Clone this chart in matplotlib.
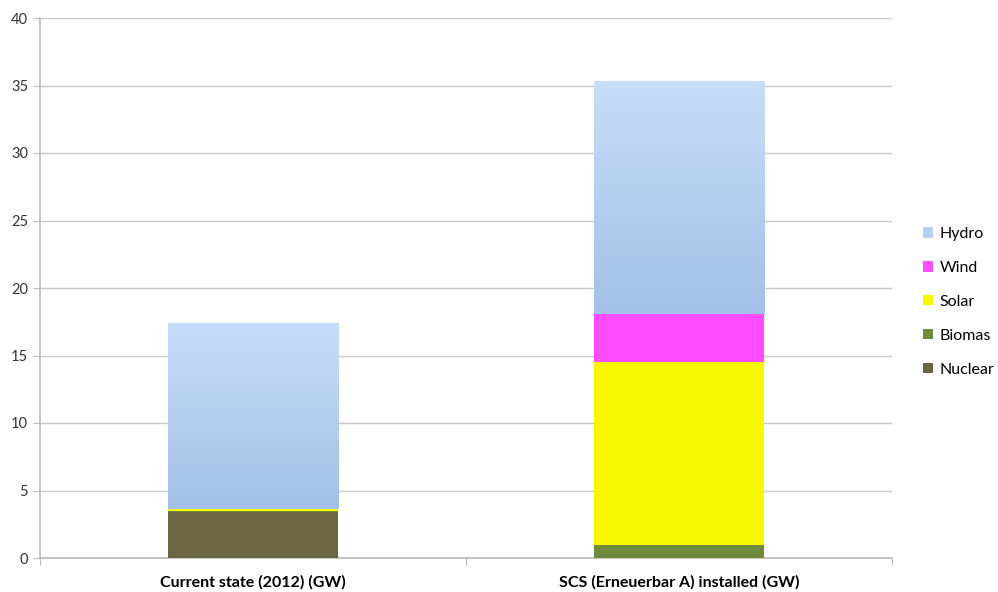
import numpy as np
import matplotlib.pyplot as plt
from matplotlib.colors import LinearSegmentedColormap

categories = ["Current state (2012) (GW)", "SCS (Erneuerbar A) installed (GW)"]
sources = ["Nuclear", "Biomas", "Solar", "Wind", "Hydro"]
nuclear = [3.4, 0.0]
biomas = [0.08, 1.0]
solar = [0.12, 13.5]
wind = [0.0, 3.6]
hydro = [13.8, 17.2]

colors = {
    "Nuclear": "#6b6641",
    "Biomas": "#6e8b3d",
    "Solar": "#f7f700",
    "Wind": "#ff4cff",
    "Hydro": "#b4cff2",
}

plt.rcParams['font.family'] = ['Lato', 'DejaVu Sans']

fig = plt.figure(figsize=(9.98, 5.92), dpi=100)
ax = fig.add_axes([40 / 998, 34 / 592, 852 / 998, 540 / 592])

x = np.array([0.5, 1.5])
width = 0.4
bottom = np.zeros(2)
hydro_cmap = LinearSegmentedColormap.from_list("hydro", ["#a3c0e7", "#c8ddf9"])
for name, vals in zip(sources, [nuclear, biomas, solar, wind, hydro]):
    vals = np.array(vals)
    bars = ax.bar(x, vals, width, bottom=bottom, color=colors[name], label=name,
                  edgecolor="none", zorder=3)
    if name == "Hydro":
        # vertical gradient fill clipped to each hydro bar
        for b in bars:
            x0, y0 = b.get_x(), b.get_y()
            grad = np.linspace(0, 1, 256).reshape(-1, 1)
            im = ax.imshow(grad, cmap=hydro_cmap, origin="lower", aspect="auto",
                           extent=[x0, x0 + b.get_width(), y0, y0 + b.get_height()],
                           zorder=3.5)
            im.set_clip_path(b)
    bottom += vals

ax.set_xlim(0, 2)
ax.set_ylim(0, 40)
ax.set_yticks(np.arange(0, 41, 5))
ax.set_xticks([0, 1, 2])
ax.set_xticklabels([])
ax.set_xticks(x, minor=True)
ax.set_xticklabels(categories, minor=True, fontweight="bold", fontsize=11.5)
ax.tick_params(axis="x", which="minor", length=0, pad=12)
ax.tick_params(axis="x", which="major", length=5, color="#bbbbbb")
ax.tick_params(axis="y", length=5, color="#bbbbbb", labelsize=10.5, labelcolor="#333333")

ax.grid(axis="y", color="#c8c8c8", linewidth=1, zorder=0)
for s in ["top", "right"]:
    ax.spines[s].set_visible(False)
for s in ["left", "bottom"]:
    ax.spines[s].set_color("#bbbbbb")
    ax.spines[s].set_linewidth(1.2)

handles, labels = ax.get_legend_handles_labels()
ax.legend(handles[::-1], labels[::-1], loc="center left", bbox_to_anchor=(1.02, 0.474),
          frameon=False, fontsize=11.5, handlelength=0.6, handleheight=0.6,
          handletextpad=0.4, labelspacing=1.25)

fig.savefig("out.png", dpi=100)
